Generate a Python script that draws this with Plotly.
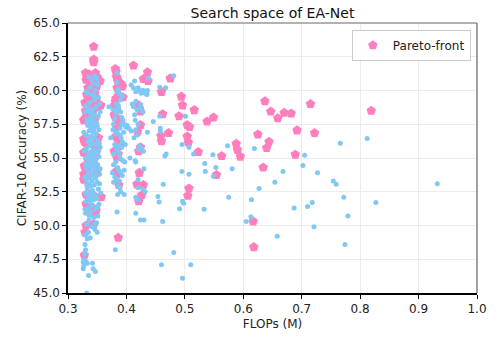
import plotly.graph_objects as go

# ---- data (FLOPs in M, accuracy in %) ----
all_flops = [
    # dense column ~0.33-0.36
    0.336, 0.349, 0.343, 0.351, 0.338, 0.347, 0.333, 0.341, 0.352, 0.345, 0.337, 0.354, 0.331, 0.348, 0.342, 0.335,
    0.339, 0.346, 0.352, 0.333, 0.344, 0.337, 0.349, 0.341, 0.334, 0.346, 0.339, 0.353, 0.336, 0.343, 0.348, 0.331,
    0.340, 0.345, 0.337, 0.351, 0.334, 0.342, 0.347, 0.338, 0.355, 0.332, 0.344, 0.340, 0.349, 0.336, 0.343, 0.353,
    0.330, 0.339, 0.346, 0.334, 0.341, 0.351, 0.337, 0.344, 0.332, 0.348, 0.340, 0.335, 0.354, 0.343, 0.338, 0.347,
    0.331, 0.341, 0.350, 0.336, 0.345, 0.339, 0.333, 0.352, 0.342, 0.337, 0.356, 0.346, 0.334, 0.340, 0.349, 0.344,
    0.331, 0.338, 0.353, 0.342, 0.335, 0.347, 0.339, 0.330, 0.351, 0.344, 0.336, 0.349, 0.332, 0.341, 0.346, 0.335,
    0.350, 0.329, 0.338, 0.333, 0.329, 0.330, 0.329, 0.328, 0.326, 0.327, 0.326, 0.331, 0.333, 0.342, 0.335, 0.343,
    0.347, 0.332,
    0.329, 0.333, 0.350, 0.327, 0.335, 0.352, 0.328, 0.337, 0.348, 0.330, 0.345, 0.355, 0.329, 0.336, 0.349, 0.332,
    0.354, 0.330, 0.343, 0.335, 0.351, 0.337, 0.347, 0.329, 0.340, 0.334, 0.345, 0.350, 0.340, 0.346, 0.352, 0.341,
    0.338, 0.344, 0.339, 0.355, 0.331,
    # column ~0.37-0.40
    0.384, 0.370, 0.373, 0.377, 0.378, 0.380, 0.382, 0.385, 0.387, 0.390, 0.392, 0.394, 0.396, 0.399, 0.401, 0.384,
    0.386, 0.388, 0.393, 0.377, 0.381, 0.384, 0.389, 0.391, 0.393, 0.380, 0.383, 0.386, 0.388, 0.391, 0.394, 0.397,
    0.378, 0.382, 0.385, 0.387, 0.390, 0.393, 0.396, 0.376, 0.380, 0.383, 0.378, 0.386, 0.389, 0.385, 0.396, 0.384,
    0.381, 0.392, 0.389, 0.395, 0.387, 0.392, 0.390, 0.386, 0.382, 0.398, 0.378, 0.390, 0.384, 0.388,
    # column ~0.40-0.44
    0.408, 0.414, 0.416, 0.412, 0.420, 0.422, 0.425, 0.429, 0.432, 0.435, 0.438, 0.416, 0.418, 0.414, 0.415, 0.420,
    0.416, 0.419, 0.408, 0.421, 0.426, 0.422, 0.429, 0.415, 0.416, 0.430, 0.420, 0.420, 0.428, 0.432, 0.416, 0.420,
    0.416, 0.424, 0.410, 0.426, 0.428, 0.424, 0.412, 0.404, 0.406, 0.413, 0.436, 0.400,
    # scattered
    0.932, 0.827, 0.812, 0.779, 0.774, 0.772, 0.766, 0.759, 0.754, 0.727, 0.721, 0.718, 0.710, 0.705, 0.702, 0.687,
    0.668, 0.658, 0.654, 0.627, 0.619, 0.614, 0.613, 0.605, 0.581, 0.575, 0.573, 0.553, 0.549, 0.548, 0.535, 0.534,
    0.533, 0.515, 0.510, 0.507, 0.507, 0.501, 0.498, 0.496, 0.496, 0.495, 0.495, 0.491, 0.481, 0.481, 0.467, 0.468,
    0.466, 0.463, 0.462, 0.460, 0.457, 0.458, 0.458, 0.457, 0.456, 0.454, 0.446, 0.435, 0.436, 0.428, 0.426, 0.430,
]
all_acc = [
    61.0, 60.9, 60.5, 60.4, 60.2, 60.0, 59.8, 59.7, 59.5, 59.3, 59.1, 59.0, 58.9, 58.8, 58.6, 58.5,
    58.3, 58.2, 58.1, 57.9, 57.8, 57.7, 57.6, 57.5, 57.4, 57.3, 57.2, 57.1, 57.0, 56.9, 56.8, 56.7,
    56.6, 56.5, 56.4, 56.3, 56.2, 56.1, 56.0, 55.9, 55.8, 55.7, 55.6, 55.5, 55.4, 55.3, 55.2, 55.1,
    55.0, 54.9, 54.8, 54.7, 54.6, 54.5, 54.4, 54.3, 54.2, 54.1, 54.0, 53.9, 53.8, 53.7, 53.6, 53.5,
    53.4, 53.3, 53.2, 53.1, 53.0, 52.9, 52.8, 52.7, 52.6, 52.5, 52.4, 52.3, 52.2, 52.1, 52.0, 51.9,
    51.8, 51.7, 51.6, 51.5, 51.3, 51.2, 51.0, 50.9, 50.7, 50.6, 50.4, 50.2, 50.1, 49.9, 49.7, 49.5,
    49.5, 49.3, 49.1, 49.0, 48.6, 48.2, 47.9, 47.5, 47.3, 47.0, 46.8, 47.3, 47.2, 47.2, 46.3, 46.8,
    46.6, 45.0,
    58.4, 57.6, 57.4, 56.9, 56.6, 56.0, 55.5, 55.0, 54.9, 54.5, 54.4, 54.2, 53.6, 53.5, 53.7, 53.0,
    53.1, 52.4, 52.2, 51.9, 51.4, 50.8, 50.1, 51.2, 58.0, 58.7, 59.6, 60.6, 60.8, 61.1, 55.6, 55.1,
    56.1, 57.1, 57.9, 58.4, 59.9,
    61.3, 58.8, 56.5, 58.6, 57.5, 57.9, 58.3, 58.5, 58.7, 58.4, 58.0, 57.8, 57.5, 57.3, 57.4, 59.9,
    60.1, 59.8, 59.6, 57.1, 56.8, 56.9, 56.7, 56.5, 56.2, 56.0, 55.7, 55.5, 55.2, 54.9, 54.8, 54.7,
    54.5, 54.7, 54.3, 54.1, 53.9, 53.7, 54.1, 53.9, 53.6, 53.4, 53.2, 52.9, 52.8, 52.3, 52.3, 51.0,
    48.2, 55.8, 57.2, 56.9, 55.9, 57.5, 59.3, 58.9, 59.0, 56.0, 55.3, 52.5, 60.6, 53.3,
    60.4, 60.7, 59.9, 60.2, 60.2, 60.0, 59.8, 60.0, 59.8, 59.7, 60.9, 59.2, 58.6, 58.2, 57.8, 57.5,
    57.1, 56.7, 57.0, 55.6, 55.7, 55.9, 55.5, 54.8, 54.7, 54.2, 53.4, 52.8, 52.7, 52.5, 52.1, 51.9,
    50.9, 50.4, 59.0, 58.7, 58.4, 58.9, 58.8, 57.2, 55.0, 56.5, 56.9, 57.3,
    53.1, 51.7, 56.45, 50.7, 48.6, 52.1, 56.1, 53.05, 53.3, 53.9, 49.9, 51.7, 51.4, 55.2, 54.45, 51.3,
    54.0, 49.2, 53.2, 52.75, 55.7, 51.9, 50.65, 50.3, 54.2, 52.1, 55.9, 54.3, 53.65, 55.25, 54.0, 54.6,
    51.2, 55.3, 47.1, 53.8, 55.8, 58.1, 51.65, 51.8, 46.1, 54.0, 56.0, 51.25, 48.0, 61.1, 60.2, 55.3,
    55.15, 53.05, 50.3, 47.1, 60.25, 57.0, 57.2, 58.1, 51.75, 52.15, 57.7, 59.75, 60.0, 60.0, 58.7, 50.4,
]

pareto_flops = [
    0.344, 0.344, 0.344, 0.330, 0.333, 0.336, 0.340, 0.343, 0.347, 0.350, 0.352, 0.355, 0.331, 0.338, 0.345, 0.349,
    0.334, 0.341, 0.346, 0.332, 0.337, 0.342, 0.348, 0.329, 0.335, 0.340, 0.345, 0.351, 0.356, 0.330, 0.333, 0.329,
    0.327, 0.331, 0.338, 0.343, 0.347, 0.336, 0.327, 0.328, 0.331, 0.348, 0.350, 0.352, 0.346, 0.349, 0.327, 0.340,
    0.345, 0.334, 0.328, 0.333, 0.327, 0.327, 0.343, 0.349, 0.357, 0.331, 0.336, 0.345, 0.331, 0.336, 0.343, 0.348,
    0.345, 0.338, 0.331, 0.344, 0.329, 0.328, 0.334, 0.347,
    0.381, 0.382, 0.383, 0.385, 0.386, 0.388, 0.391, 0.393, 0.384, 0.386, 0.390, 0.394, 0.382, 0.381, 0.380, 0.379,
    0.381, 0.385, 0.387, 0.383, 0.382, 0.385, 0.388, 0.379, 0.383, 0.386, 0.382, 0.384, 0.387, 0.386,
    0.412, 0.436, 0.437, 0.429, 0.429, 0.426, 0.422, 0.421, 0.418, 0.424, 0.424, 0.421, 0.419, 0.421, 0.424,
    0.475, 0.472, 0.462, 0.460, 0.459, 0.460, 0.496, 0.494, 0.490, 0.507, 0.505, 0.508, 0.504, 0.506, 0.504, 0.516,
    0.523, 0.538, 0.549, 0.554, 0.563, 0.588, 0.590, 0.595, 0.617, 0.618, 0.625, 0.634, 0.640, 0.644, 0.637, 0.647,
    0.659, 0.670, 0.682, 0.689, 0.692, 0.715, 0.722, 0.819,
]
pareto_acc = [
    63.25, 62.3, 62.1, 61.3, 61.1, 61.2, 61.0, 60.9, 61.3, 61.0, 60.7, 60.7, 60.8, 60.6, 60.5, 60.3,
    60.2, 60.0, 59.8, 59.7, 59.5, 59.4, 59.3, 59.1, 59.0, 58.9, 59.0, 58.8, 58.9, 58.5, 58.2, 57.9,
    57.8, 58.0, 58.3, 58.5, 58.0, 57.6, 56.4, 56.2, 56.1, 56.4, 56.0, 56.5, 55.8, 55.5, 55.4, 55.3,
    55.1, 54.9, 54.4, 54.3, 53.8, 53.4, 54.6, 53.9, 52.1, 52.3, 52.0, 52.2, 51.6, 51.5, 51.3, 51.1,
    51.0, 50.9, 50.0, 50.1, 49.5, 47.8, 54.0, 54.4,
    61.6, 61.4, 61.0, 60.8, 60.6, 60.4, 60.5, 60.3, 60.2, 59.6, 59.5, 59.5, 59.4, 59.2, 58.9, 58.2,
    58.0, 57.9, 57.6, 57.3, 56.6, 56.4, 55.9, 55.5, 55.1, 55.3, 54.0, 53.8, 53.0, 49.1,
    61.85, 61.35, 60.7, 60.85, 53.0, 52.25, 53.9, 51.8, 53.05, 57.45, 58.45, 58.9, 56.95, 55.5, 55.8,
    60.9, 56.85, 58.25, 59.9, 56.65, 56.25, 58.9, 59.55, 58.1, 52.75, 52.2, 57.3, 57.45, 56.15, 56.6, 58.55,
    55.45, 57.7, 58.0, 53.75, 55.15, 56.05, 55.6, 55.1, 50.3, 48.4, 56.75, 54.3, 55.75, 56.2, 59.2, 58.45,
    57.95, 58.35, 58.3, 55.25, 57.05, 59.0, 56.85, 58.5,
]

x_ticks = [0.3, 0.4, 0.5, 0.6, 0.7, 0.8, 0.9, 1.0]
y_ticks = [45.0, 47.5, 50.0, 52.5, 55.0, 57.5, 60.0, 62.5, 65.0]

PINK = "#ff7fbe"
BLUE = "#7fc8f5"
FONT = "DejaVu Sans"

fig = go.Figure()
fig.add_trace(go.Scatter(
    x=pareto_flops, y=pareto_acc, mode="markers", name="Pareto-front",
    marker=dict(symbol="pentagon", size=10, color=PINK, line=dict(width=0)),
))
fig.add_trace(go.Scatter(
    x=all_flops, y=all_acc, mode="markers", name="Search space", showlegend=False,
    marker=dict(symbol="circle", size=5, color=BLUE, line=dict(width=0)),
))

fig.update_layout(
    width=499, height=341,
    margin=dict(l=68, r=14, t=23, b=47),
    paper_bgcolor="white", plot_bgcolor="white",
    font=dict(family=FONT, size=12, color="#222"),
    title=dict(text="Search space of EA-Net", x=0.5, xanchor="center", xref="paper",
               y=0.963, yanchor="middle", yref="container",
               font=dict(family=FONT, size=14, color="#111")),
    legend=dict(x=0.985, y=0.975, xanchor="right", yanchor="top",
                bordercolor="#cccccc", borderwidth=1, bgcolor="rgba(255,255,255,0.9)",
                font=dict(family=FONT, size=12, color="#222"), itemwidth=30,
                tracegroupgap=0),
    showlegend=True,
)
fig.update_xaxes(
    range=[0.3, 1.0], tickvals=x_ticks, ticktext=[f"{v:.1f}" for v in x_ticks],
    showgrid=True, gridcolor="#ececec", gridwidth=1, zeroline=False,
    showline=True, linecolor="black", linewidth=1.5,
    ticks="outside", ticklen=4, tickwidth=1, tickcolor="black",
    tickfont=dict(family=FONT, size=12, color="#222"),
    title=dict(text="FLOPs (M)", font=dict(family=FONT, size=12, color="#222"), standoff=4),
)
fig.update_yaxes(
    range=[45.0, 65.0], tickvals=y_ticks, ticktext=[f"{v:.1f}" for v in y_ticks],
    showgrid=True, gridcolor="#ececec", gridwidth=1, zeroline=False,
    showline=True, linecolor="black", linewidth=1.5,
    ticks="outside", ticklen=4, tickwidth=1, tickcolor="black",
    tickfont=dict(family=FONT, size=12, color="#222"),
    title=dict(text="CIFAR-10 Accuracy (%)", font=dict(family=FONT, size=12, color="#222"), standoff=4),
)
# grey top / right frame lines
fig.add_shape(type="line", xref="paper", yref="paper", x0=0, x1=1, y0=1, y1=1,
              line=dict(color="#666666", width=1.2))
fig.add_shape(type="line", xref="paper", yref="paper", x0=1, x1=1, y0=0, y1=1,
              line=dict(color="#666666", width=1.2))

fig.write_html("out.html")
